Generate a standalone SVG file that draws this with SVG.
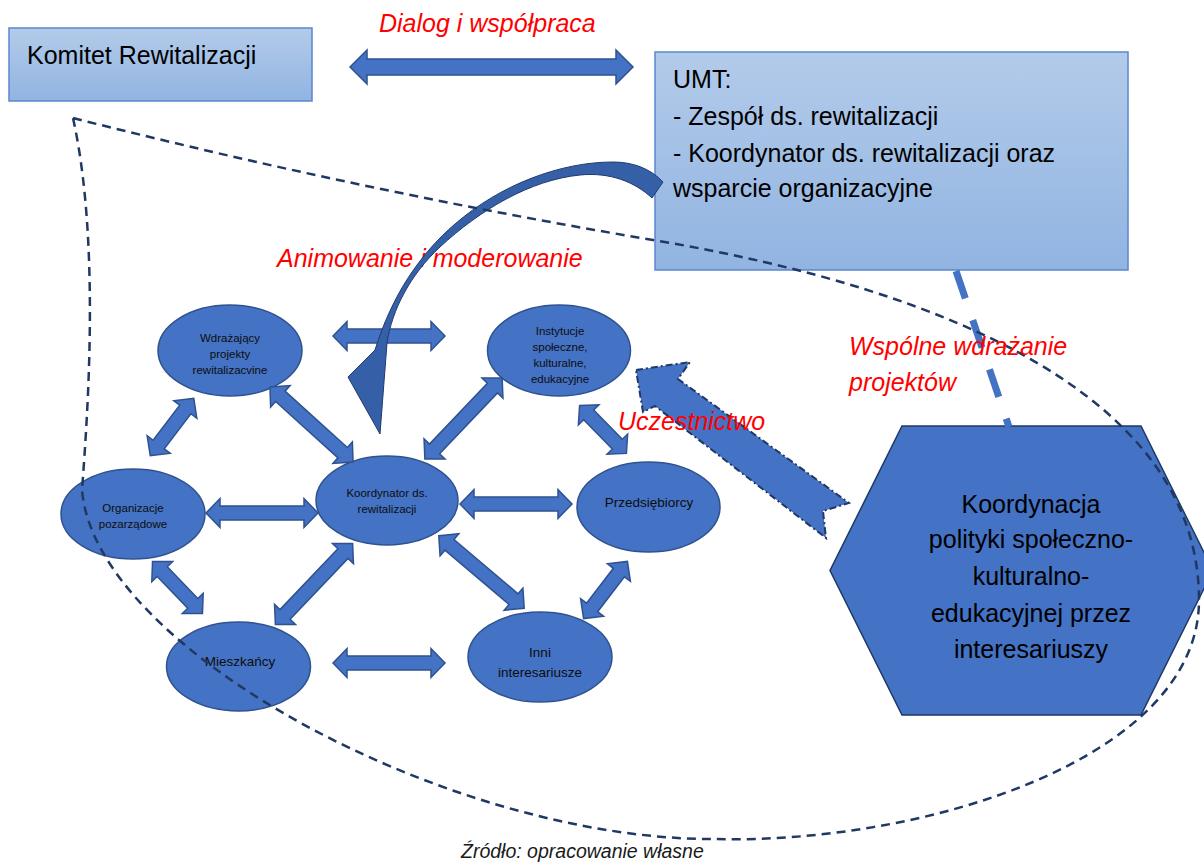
<svg xmlns="http://www.w3.org/2000/svg" width="1204" height="865" viewBox="0 0 1204 865">
<defs>
<linearGradient id="boxGrad" x1="0" y1="0" x2="0" y2="1">
<stop offset="0" stop-color="#b3cbea"/>
<stop offset="1" stop-color="#91b4e1"/>
</linearGradient>
<path id="daL" d="M-56,0 L-42,-14.5 L-42,-7 L42,-7 L42,-14.5 L56,0 L42,14.5 L42,7 L-42,7 L-42,14.5 Z"/>
<path id="daS" d="M-36,0 L-22,-14.5 L-22,-7 L22,-7 L22,-14.5 L36,0 L22,14.5 L22,7 L-22,7 L-22,14.5 Z"/>
</defs>
<style>
.box{fill:url(#boxGrad);stroke:#5b86d0;stroke-width:1.5}
.ell{fill:#4472c4;stroke:#2f528f;stroke-width:1.5}
.da{fill:#4472c4;stroke:#2f528f;stroke-width:1.5}
.t{font-family:"Liberation Sans",Arial,sans-serif;fill:#000}
.s{font-size:11.5px;text-anchor:middle;fill:#0d0d0d}
.m{font-size:13.5px;text-anchor:middle;fill:#0d0d0d}
.b{font-size:25px}
.hx{font-size:25px;text-anchor:middle}
.red{font-family:"Liberation Sans",Arial,sans-serif;font-style:italic;font-size:25px;fill:#ff0000}
.outline{fill:none;stroke:#203864;stroke-width:2.5;stroke-dasharray:9 6}
</style>
<rect x="0" y="0" width="1204" height="865" fill="#ffffff"/>

<g id="komitet">
<rect class="box" x="9" y="28" width="303" height="73"/>
<text class="t b" x="27" y="64">Komitet Rewitalizacji</text>
</g>

<g id="umt">
<rect class="box" x="655" y="52" width="473" height="218"/>
<text class="t b" x="673" y="88">UMT:</text>
<text class="t b" x="673" y="125">- Zespół ds. rewitalizacji</text>
<text class="t b" x="673" y="161.5">- Koordynator ds. rewitalizacji oraz</text>
<text class="t b" x="673" y="197">wsparcie organizacyjne</text>
</g>

<g id="label-animowanie">
<text class="red" x="277" y="267">Animowanie i moderowanie</text>
</g>

<g id="wdrazajacy">
<ellipse class="ell" cx="230" cy="350.5" rx="72" ry="45.5"/>
<text class="t s" x="230" y="342">Wdrażający</text>
<text class="t s" x="230" y="358">projekty</text>
<text class="t s" x="230" y="374">rewitalizacvine</text>
</g>

<g id="organizacje">
<ellipse class="ell" cx="133" cy="514" rx="72" ry="45"/>
<text class="t s" x="133" y="512">Organizacje</text>
<text class="t s" x="133" y="528">pozarządowe</text>
</g>

<g id="koordynator">
<ellipse class="ell" cx="387" cy="500.5" rx="71" ry="44.5"/>
<text class="t s" x="387" y="497">Koordynator ds.</text>
<text class="t s" x="387" y="513">rewitalizacji</text>
</g>

<g id="mieszkancy">
<ellipse class="ell" cx="238.5" cy="666.5" rx="72" ry="44.5"/>
<text class="t m" x="240" y="666">Mieszkańcy</text>
</g>

<g id="instytucje">
<ellipse class="ell" cx="559" cy="350.5" rx="71.5" ry="45.5"/>
<text class="t s" x="560" y="335">Instytucje</text>
<text class="t s" x="560" y="351">społeczne,</text>
<text class="t s" x="560" y="367">kulturalne,</text>
<text class="t s" x="560" y="383">edukacyjne</text>
</g>

<g id="przedsiebiorcy">
<ellipse class="ell" cx="648.5" cy="507" rx="71.5" ry="45"/>
<text class="t m" x="649" y="507">Przedsiębiorcy</text>
</g>

<g id="inni">
<ellipse class="ell" cx="540" cy="657" rx="72" ry="45"/>
<text class="t m" x="540" y="657">Inni</text>
<text class="t m" x="540" y="677">interesariusze</text>
</g>

<g id="koordynacja">
<polygon points="902,426 1141,426 1213,570.5 1141,715 902,715 830,570.5" fill="#4472c4" stroke="#203864" stroke-width="1.5"/>
<text class="t hx" x="1031" y="513">Koordynacja</text>
<text class="t hx" x="1031" y="548">polityki społeczno-</text>
<text class="t hx" x="1031" y="585">kulturalno-</text>
<text class="t hx" x="1031" y="622">edukacyjnej przez</text>
<text class="t hx" x="1031" y="658">interesariuszy</text>
</g>

<g id="connectors">
<path class="da" d="M350,67 L367,50 L367,59 L616,59 L616,50 L633,67 L616,84 L616,75 L367,75 L367,84 Z"/>
<g class="da">
<use href="#daL" transform="translate(389,336)"/>
<use href="#daS" transform="translate(172,427) rotate(-52.8)"/>
<use href="#daL" transform="translate(311.5,424.5) rotate(42.1)"/>
<use href="#daL" transform="translate(262,513)"/>
<use href="#daS" transform="translate(177.5,587.5) rotate(46.1)"/>
<use href="#daL" transform="translate(314,584) rotate(-46.4)"/>
<use href="#daL" transform="translate(389,663)"/>
<use href="#daL" transform="translate(463.5,418.5) rotate(-46.4)"/>
<use href="#daL" transform="translate(516,504)"/>
<use href="#daL" transform="translate(481.5,572) rotate(40.3)"/>
<use href="#daS" transform="translate(603,429.5) rotate(45.6) scale(0.93,1)"/>
<use href="#daS" transform="translate(605.5,590) rotate(-52.5)"/>
</g>
<path d="M663,182 C650,168 632,162 613,162 C560,162 500,185 455,224 C420,254 392,295 375,350 L348,377 L380,434 L387,343 C392,310 410,275 440,247 C480,210 530,180 580,175 C610,172 635,182 652,198 Z" fill="#3560a8" stroke="#1f3b6e" stroke-width="1"/>
<polygon points="636,370 690,362 678,379 849,503 823,511 826,538 655,406 643,412" fill="#4472c4" stroke="#203864" stroke-width="2" stroke-dasharray="7 3 2 3"/>
<line x1="956" y1="271" x2="1009" y2="427" stroke="#4472c4" stroke-width="7" stroke-dasharray="29 23"/>
</g>

<g id="boundary">
<path class="outline" d="M73,118 Q361,191 653,240 C953,290 1199,400 1199,600 C1199,760 920,845 712,839 C450,839 95,650 82,490 C88,410 100,240 73,118 Z"/>
</g>

<g id="labels">
<text class="red" x="379" y="32">Dialog i współpraca</text>
<text class="red" x="849" y="355">Wspólne wdrażanie</text>
<text class="red" x="849" y="391">projektów</text>
<text class="red" x="618" y="430">Uczestnictwo</text>
<text x="461" y="858" font-family="Liberation Sans, Arial, sans-serif" font-style="italic" font-size="19.5" fill="#1a1a1a">Źródło: opracowanie własne</text>
</g>
</svg>
